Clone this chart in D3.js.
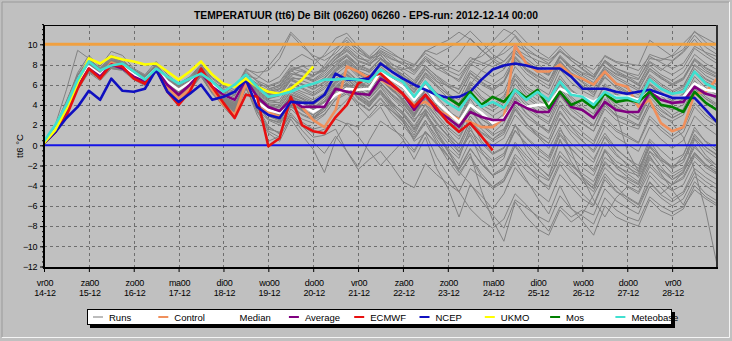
<!DOCTYPE html>
<html><head><meta charset="utf-8">
<script src="https://cdn.jsdelivr.net/npm/d3@7"></script>
<style>body{margin:0;background:#c0c0c0;overflow:hidden}svg{display:block}</style>
</head><body><svg id="c" width="732" height="341"></svg>
<script>
// ---------- DATA ----------
const titleText = "TEMPERATUUR (tt6) De Bilt (06260) 06260 - EPS-run: 2012-12-14 00:00";
const yLabel = "tt6 °C";
const stepHours = 6;
const dayNames = ["vr00","za00","zo00","ma00","di00","wo00","do00","vr00","za00","zo00","ma00","di00","wo00","do00","vr00"];
const dayDates = ["14-12","15-12","16-12","17-12","18-12","19-12","20-12","21-12","22-12","23-12","24-12","25-12","26-12","27-12","28-12"];
const yTicks = [-12,-10,-8,-6,-4,-2,0,2,4,6,8,10];
const refHigh = 10, refZero = 0;
const legendNames = ["Runs","Control","Median","Average","ECMWF","NCEP","UKMO","Mos","Meteobase"];
const legendColors = ["#7a7a7a","#f0905c","#ffffff","#800080","#e81010","#1010c0","#ffff00","#008000","#40e0d0"];

const control = [
0.2,1.4,3.3,5.8,7.6,6.8,8.2,7.8,6.8,6.2,
7.6,5.8,4.6,5.6,7.5,5.5,4.0,3.0,6.1,3.8,
3.3,2.8,4.3,3.8,2.5,1.8,3.5,7.8,7.3,6.6,
6.5,5.8,5.0,4.0,4.3,3.5,3.0,2.6,2.3,1.8,
1.8,2.7,9.9,8.1,7.3,7.3,8.0,7.0,6.6,6.0,
7.3,6.1,5.8,3.8,4.5,2.2,1.4,1.8,5.1,5.3,
6.6];
const median = [
0.2,1.5,3.5,6.0,7.8,7.0,8.0,7.8,7.0,6.5,
7.6,6.3,5.5,6.2,7.2,6.0,5.0,4.5,6.6,4.3,
3.5,3.2,4.3,4.0,3.3,4.0,5.0,5.6,5.5,5.6,
7.3,6.5,5.8,4.5,5.8,4.3,3.3,2.3,4.0,3.2,
2.2,2.7,4.3,3.8,4.0,4.0,5.6,5.1,4.8,4.3,
5.0,4.8,4.8,4.5,5.3,5.0,4.7,4.8,6.1,5.5,
5.3];
const average = [
0.2,1.3,3.3,5.8,7.6,6.8,8.0,7.6,6.8,6.3,
7.5,6.0,5.0,6.0,7.2,5.8,5.0,4.5,6.5,4.8,
3.8,3.4,4.5,3.8,3.8,3.8,5.6,5.3,5.1,5.0,
6.6,6.0,5.1,3.5,5.0,3.5,2.7,1.85,3.3,2.8,
2.5,2.5,4.3,3.7,3.3,3.3,5.3,3.8,3.5,2.7,
4.3,3.5,3.3,3.3,5.3,4.5,4.2,4.3,5.8,5.1,
4.8];
const ecmwf = [
0.2,1.3,2.9,5.6,7.6,6.6,8.0,7.8,6.6,6.1,
7.6,5.3,4.0,5.3,7.6,5.8,4.2,2.7,5.0,4.8,
-0.1,0.7,4.8,2.0,1.4,1.2,2.8,4.0,6.1,6.8,
7.1,6.1,5.1,3.8,5.0,3.7,2.3,1.35,2.2,0.9,
-0.5];
const ncep = [
0.2,1.3,2.7,3.8,5.4,4.5,6.6,5.4,5.3,5.6,
7.5,5.3,4.3,5.1,6.0,4.5,4.8,5.3,6.5,3.8,
3.0,2.7,4.3,4.2,4.2,5.0,7.1,6.5,6.5,6.6,
8.1,7.3,6.6,6.0,5.5,5.0,4.7,4.8,5.3,6.5,
7.5,7.9,8.1,7.9,7.6,7.6,7.6,6.8,5.6,5.6,
5.6,5.3,5.1,5.3,5.5,5.1,4.7,4.7,4.7,3.5,
2.3];
const ukmo = [
0.2,1.5,3.6,6.2,8.6,8.1,8.8,8.5,8.3,8.0,
8.1,7.3,6.5,7.3,8.3,7.0,6.1,5.8,6.6,5.8,
5.3,5.1,5.6,6.5,7.8];
const mosFromStep = 36;
const mos = [
4.7,4.0,5.3,4.0,4.8,4.3,5.5,4.7,5.5,3.7,
5.3,4.0,4.5,3.7,5.1,4.3,4.5,4.3,5.3,4.0,
3.8,3.3,5.3,4.2,3.5];
const meteobase = [
0.4,2.0,4.0,6.5,8.3,7.4,7.9,8.1,7.3,6.5,
7.6,6.8,6.1,6.6,7.1,6.3,5.3,6.0,7.0,5.8,
4.8,5.0,5.3,5.8,6.1,6.5,6.5,6.6,6.5,6.3,
7.5,6.8,6.3,4.8,6.3,5.0,4.2,3.5,5.0,3.8,
4.3,3.7,5.5,4.5,5.3,4.5,6.3,5.0,4.8,4.0,
5.3,4.7,4.7,4.3,6.5,5.6,5.1,5.3,7.3,6.1,
5.6];

const runs = [
[0.3,2.0,5.5,9.4,8.6,7.6,8.9,8.5,7.4,6.9, 8.0,6.8,6.0,6.6,7.8,6.4,5.6,5.2,7.4,6.3, 5.6,5.9,7.4,6.8,6.5,7.3,8.6,9.4,8.3,7.9, 9.0,7.6,6.8,5.9,7.5,6.4,5.2,4.0,6.2,4.8, 4.0,4.9,7.1,5.8,5.1,4.6,6.9,5.5,4.7,4.0, 5.9,5.0,4.6,4.2,6.1,5.3,4.4,5.1,7.3,6.5, 6.0],
[0.2,1.7,4.2,7.2,8.9,7.8,9.3,8.9,7.6,7.0, 8.3,7.0,6.1,6.8,8.0,6.7,5.9,5.5,7.6,6.9, 6.2,6.8,8.3,9.0,8.4,8.8,9.6,10.4,9.2,8.6, 9.4,8.8,8.0,7.2,8.6,7.5,7.8,9.0,10.6,9.5, 8.4,7.6,9.1,8.2,7.5,7.0,8.8,7.6,6.9,6.2, 7.8,7.0,6.6,6.0,8.2,7.4,8.3,9.2,10.5,9.1, 8.4],
[0.2,1.4,3.2,5.7,7.5,6.8,7.7,7.6,6.8,6.3, 7.4,5.9,4.9,5.7,7.0,5.5,4.4,3.8,6.2,4.5, 3.6,3.2,4.8,4.4,4.0,4.9,6.3,7.0,6.1,5.9, 7.2,6.1,5.2,3.9,5.5,4.0,2.9,1.8,3.8,2.6, 1.9,2.6,4.8,3.6,2.8,2.1,4.4,3.0,2.2,1.4, 3.6,2.5,2.0,1.6,3.9,2.9,2.4,3.0,5.2,4.1, 3.5],
[0.1,1.2,3.0,5.5,7.2,6.4,7.6,7.4,6.5,5.9, 7.3,5.6,4.4,5.4,7.3,5.3,3.8,2.6,5.2,4.1, 0.4,0.9,4.2,2.3,1.6,1.9,3.4,4.5,5.8,6.4, 6.6,5.5,4.6,3.2,4.7,3.1,1.8,0.9,2.6,0.4, -0.8,-0.2,1.9,0.7,-0.4,-1.3,1.2,-0.3,-1.5,-2.6, -0.6,-1.9,-2.8,-3.6,-1.2,-2.5,-3.4,-2.6,-0.8,-1.9, -2.8],
[0.2,1.6,3.6,6.2,7.9,7.1,8.2,7.9,7.2,6.6, 7.7,6.0,5.0,5.8,7.1,5.7,4.5,3.9,6.3,4.9, 3.9,3.5,5.0,4.6,3.8,4.3,5.6,6.1,5.4,4.6, 5.8,4.3,3.2,1.6,3.0,1.2,-0.6,-2.4,-0.8,-4.5, -7.4,-9.5,-5.6,-7.1,-8.3,-8.9,-6.4,-7.6,-6.8,-4.9, -2.8,-4.1,-5.2,-5.9,-3.6,-4.8,-3.9,-2.6,-0.7,-1.9, -2.5],
[0.3,1.8,4.0,6.6,8.3,7.4,8.4,8.1,7.3,6.7, 7.8,6.4,5.6,6.2,7.4,6.0,5.1,4.6,6.9,5.6, 5.0,5.2,6.6,6.1,5.5,6.2,7.5,8.2,7.1,6.5, 7.6,6.4,5.6,4.4,6.0,4.8,3.6,2.3,4.6,3.0, 2.2,3.1,5.4,4.2,3.4,2.8,5.0,3.7,2.9,2.0, 4.1,3.0,2.6,2.0,4.2,3.1,2.2,0.8,-2.5,-6.5, -11.8],
[0.2,1.3,3.3,5.9,7.6,6.9,7.9,7.7,6.9,6.3, 7.4,6.0,5.1,5.8,6.9,5.4,4.3,3.6,5.9,3.8, 1.9,1.1,3.6,2.6,2.2,3.0,4.6,5.3,3.9,2.7, 3.8,1.9,0.6,-1.4,0.8,-2.3,-4.2,-7.1,-3.9,-5.0, -6.3,-4.8,-2.2,-3.6,-4.7,-5.6,-2.9,-4.1,-5.3,-6.0, -3.4,-4.6,-5.1,-5.8,-3.0,-4.2,-5.3,-4.6,-2.3,-3.2, -3.9],
[0.2,1.5,3.4,6.1,7.7,7.0,8.1,7.8,7.1,6.6, 7.6,6.3,5.4,6.1,7.3,5.9,4.9,4.3,6.6,5.3, 4.5,4.2,5.8,5.3,4.9,5.6,7.0,7.9,6.8,6.0, 7.1,5.6,4.3,2.6,3.4,1.2,-0.4,-2.6,-3.8,-5.5, -6.9,-8.2,-5.4,-6.2,-7.0,-7.6,-5.0,-6.3,-7.0,-7.8, -5.2,-6.4,-7.1,-7.5,-5.1,-6.0,-6.6,-6.1,-4.4,-5.3, -6.0],
[0.3,1.9,4.4,7.0,8.4,7.5,8.5,8.2,7.4,6.8, 7.9,6.6,5.7,6.4,7.6,6.2,5.3,4.9,7.0,6.0, 5.4,5.8,7.3,7.9,7.2,7.4,8.5,9.9,9.0,8.1, 8.7,7.4,6.4,5.3,7.1,6.0,5.0,4.1,6.3,5.4, 4.6,5.3,7.8,6.5,5.7,5.0,7.5,6.2,5.4,4.8, 7.1,6.0,5.3,4.6,6.8,5.9,5.2,5.8,8.0,7.2, 6.7],
[0.1,1.3,3.1,5.6,7.3,6.6,7.6,7.5,6.6,6.1, 7.2,5.7,4.6,5.5,6.8,5.1,3.9,3.0,5.6,3.6, 2.5,2.0,3.9,3.0,2.5,3.1,4.5,5.1,4.2,3.4, 4.6,3.1,2.0,0.6,2.4,0.9,-0.5,-1.9,0.5,-0.8, -1.7,-1.0,1.4,0.2,-0.9,-1.6,1.0,-0.4,-1.5,-2.4, 0.3,-1.0,-1.8,-2.6,0.0,-1.2,-2.1,-1.4,1.1,-0.2, -1.0],
[0.2,1.6,3.8,6.4,8.1,7.2,8.3,8.0,7.2,6.7, 7.7,6.3,5.5,6.2,7.5,6.1,5.2,4.7,6.8,5.4, 4.6,4.9,6.5,6.0,5.8,6.6,7.8,8.5,7.6,7.3, 8.6,8.0,7.6,7.0,8.4,7.6,7.0,6.5,8.4,8.8, 9.7,10.4,11.4,10.2,9.3,8.6,9.8,8.7,7.9,7.0, 8.3,7.4,6.8,6.1,7.9,7.0,6.4,7.2,9.0,8.1, 7.5],
[0.3,1.8,4.1,6.9,8.5,7.6,8.7,8.3,7.4,6.8, 8.0,6.7,5.9,6.7,7.9,6.6,5.8,5.3,7.5,7.2, 7.4,8.6,11.0,9.8,8.9,8.4,9.1,10.2,9.6,8.7, 9.2,8.1,7.3,6.4,7.9,6.8,5.9,5.1,7.2,6.3, 5.6,6.4,8.7,7.4,6.6,5.9,8.2,7.1,6.3,5.6, 7.5,6.6,6.0,5.4,7.6,6.8,6.1,6.7,8.6,7.7, 7.1],
[0.2,1.4,3.4,5.9,7.6,6.9,7.8,7.6,6.8,6.2, 7.3,5.8,4.8,5.6,6.9,5.3,4.1,3.2,5.8,3.0, 1.2,0.4,2.6,1.0,-0.4,-2.7,0.6,2.2,1.8,2.9, 4.2,3.4,2.6,1.3,3.1,1.7,0.6,-0.7,1.5,0.2, -0.9,-0.3,2.0,0.8,-0.2,-1.1,1.5,0.2,-0.8,-1.7, 0.9,-0.4,-1.3,-2.0,0.6,-0.5,-1.5,-0.9,1.5,0.4, -0.3],
[0.2,1.5,3.5,6.0,7.8,7.0,8.0,7.8,7.0,6.5, 7.6,6.1,5.2,5.9,7.1,5.7,4.6,4.0,6.4,4.6, 3.7,3.3,4.9,4.3,3.7,4.6,6.1,6.9,5.8,5.2, 6.5,5.4,4.6,3.1,5.0,3.6,2.4,1.2,3.6,2.1, 1.2,2.2,4.6,3.1,2.2,1.4,3.9,2.4,1.3,0.4, 2.8,1.6,1.0,0.3,2.9,1.8,0.9,1.7,4.2,3.0, 2.2],
[0.2,1.7,3.9,6.5,8.2,7.3,8.4,8.1,7.3,6.7, 7.8,6.5,5.6,6.3,7.5,6.2,5.1,4.6,6.9,5.7, 5.1,5.5,6.9,7.4,6.9,7.6,8.8,9.7,8.7,8.2, 9.3,8.6,8.0,7.4,8.6,7.9,7.4,6.9,8.3,8.0, 8.6,9.1,10.0,9.3,8.8,8.4,9.3,8.4,7.6,6.8, 8.4,7.6,7.1,6.6,8.3,7.6,7.0,7.7,9.6,8.8, 8.1],
[0.1,1.3,3.2,5.7,7.4,6.7,7.7,7.6,6.7,6.1, 7.3,5.7,4.7,5.6,6.9,5.3,4.2,3.4,5.7,3.3, 1.6,1.3,3.0,1.5,0.3,-0.8,0.9,-0.6,-2.1,0.5, 2.4,1.6,0.9,-0.5,1.4,0.2,-1.0,-2.4,-0.4,-1.8, -2.9,-2.2,0.3,-1.0,-2.1,-3.0,-0.6,-1.9,-3.1,-4.0, -1.6,-2.8,-3.5,-4.2,-1.8,-3.0,-3.9,-3.3,-1.1,-2.2, -2.9],
[0.2,1.6,3.7,6.3,8.0,7.1,8.1,7.9,7.1,6.6, 7.7,6.2,5.3,6.0,7.2,5.9,4.9,4.4,6.6,5.1, 4.3,4.2,6.0,5.6,5.0,5.8,7.3,8.1,7.0,6.4, 7.6,6.7,5.9,4.8,6.4,5.2,4.3,3.4,5.7,4.6, 3.8,4.7,6.9,5.6,4.9,4.3,6.6,5.4,4.6,3.9, 6.1,5.1,4.5,3.9,6.0,5.1,4.4,5.0,7.2,6.3, 5.7],
[0.2,1.4,3.3,5.8,7.6,6.9,7.9,7.7,6.9,6.4, 7.5,6.0,5.0,5.7,7.0,5.5,4.4,3.7,6.1,4.3, 3.2,2.8,4.5,3.9,3.4,4.2,5.7,6.6,5.6,4.9, 6.2,4.9,3.9,2.4,4.0,2.3,0.9,-0.6,1.0,-1.5, -3.0,-2.4,-0.1,-1.8,-3.2,-4.4,-1.9,-3.5,-4.8,-5.9, -3.1,-4.5,-5.4,-6.2,-3.7,-4.9,-5.6,-4.8,-2.7,-3.6, -4.3],
[0.3,1.9,4.3,6.9,8.4,7.5,8.6,8.2,7.4,6.8, 7.9,6.6,5.8,6.5,7.7,6.4,5.5,5.0,7.2,6.4, 5.9,6.3,7.8,7.5,6.9,7.4,8.5,9.3,8.4,8.0, 9.1,8.5,8.2,7.9,9.4,9.0,9.6,10.3,11.3,10.2, 9.0,8.3,9.4,8.6,7.7,7.1,8.7,7.5,6.7,6.0, 7.6,6.8,6.2,5.6,7.4,6.6,6.0,6.6,8.5,7.6, 7.0],
[0.2,1.5,3.4,6.0,7.7,6.9,7.9,7.7,6.9,6.4, 7.5,6.0,5.1,5.8,7.0,5.6,4.5,3.8,6.2,4.2, 3.0,2.5,4.2,3.4,2.7,3.4,4.9,5.9,4.8,4.0, 5.4,4.2,3.3,1.9,3.6,2.1,0.9,-0.3,2.0,0.8, 0.0,0.7,3.0,1.8,0.9,0.2,2.7,1.4,0.4,-0.5, 1.9,0.8,0.1,-0.6,1.8,0.6,-0.3,0.5,2.9,1.8, 1.0],
[0.2,1.6,3.6,6.1,7.8,7.0,8.0,7.8,7.0,6.5, 7.6,6.2,5.3,6.0,7.2,5.8,4.7,4.1,6.5,5.0, 4.1,4.0,5.6,5.1,4.5,5.2,6.6,7.4,6.4,5.7, 6.9,5.9,5.0,3.9,5.5,4.4,3.3,2.6,4.8,3.7, 2.9,3.6,6.1,4.7,3.9,3.2,5.7,4.3,3.5,2.7, 5.1,3.2,-0.5,-2.6,0.4,-1.2,-2.3,-1.0,1.8,0.3, -0.6],
[0.2,1.7,3.8,6.3,8.0,7.2,8.2,8.0,7.2,6.7, 7.7,6.4,5.5,6.1,7.4,6.0,5.0,4.5,6.7,5.8, 5.3,5.6,7.1,6.8,6.3,6.9,8.0,8.9,7.9,7.4, 8.5,7.7,7.0,6.2,7.8,6.9,6.1,5.5,7.4,6.6, 6.0,6.8,8.8,7.6,6.9,6.3,8.3,7.2,6.5,5.9, 7.8,7.1,6.8,6.5,8.6,8.4,8.9,10.1,11.2,10.6, 10.0],
[0.1,1.2,3.1,5.6,7.3,6.6,7.6,7.5,6.7,6.2, 7.3,5.8,4.8,5.5,6.8,5.2,4.0,3.3,5.7,3.9, 2.6,2.2,3.8,3.1,2.6,3.4,4.9,5.5,4.3,3.5, 4.7,3.4,2.3,0.8,2.5,0.6,-1.0,-2.7,-1.2,-3.1, -4.3,-3.6,-1.2,-2.5,-3.4,-4.1,-1.6,-2.6,-3.4,-4.3, -1.8,-2.8,-3.3,-3.9,-1.4,-2.4,-3.1,-2.4,-0.2,-1.3, -2.0],
[0.2,1.5,3.5,6.0,7.8,7.0,8.0,7.8,7.0,6.5, 7.6,6.2,5.2,5.9,7.2,5.8,4.7,4.1,6.4,4.8, 3.9,3.7,5.3,4.7,4.2,4.9,6.3,7.1,6.1,5.5, 6.8,5.9,5.1,4.1,5.8,4.9,4.2,3.7,6.0,7.4, 8.3,9.5,10.8,9.2,8.1,7.2,8.4,7.1,6.2,5.3, 6.8,5.7,4.9,4.1,6.0,4.9,4.0,4.6,6.8,5.7, 5.0],
[0.2,1.4,3.3,5.8,7.5,6.8,7.8,7.6,6.8,6.2, 7.4,5.8,4.8,5.6,6.9,5.3,4.1,3.3,5.8,3.5, 1.4,0.8,2.8,1.9,1.2,1.6,2.6,2.1,0.9,-0.6, -2.0,-0.8,0.4,-0.7,1.3,0.1,-1.1,-2.3,-0.3,-1.9, -3.0,-2.4,0.0,-1.3,-2.5,-3.4,-1.0,-2.3,-3.6,-4.6, -2.2,-3.3,-4.0,-4.6,-2.1,-3.2,-3.9,-3.1,-0.9,-2.0, -2.7],
[0.3,1.8,4.0,6.6,8.2,7.4,8.4,8.1,7.3,6.7, 7.8,6.5,5.6,6.3,7.5,6.2,5.2,4.7,6.9,6.1, 5.8,6.2,7.6,7.3,6.8,7.7,8.9,9.5,8.6,8.4, 9.6,9.0,8.5,8.0,9.1,8.4,7.8,7.3,8.7,8.2, 7.8,8.3,9.6,8.9,8.4,8.0,9.3,8.6,8.0,7.5, 8.8,8.2,7.8,7.4,8.8,8.2,7.6,8.1,9.8,9.2, 8.8],
[0.2,1.5,3.6,6.1,7.9,7.1,8.1,7.9,7.1,6.6, 7.7,6.3,5.4,6.1,7.3,5.9,4.8,4.2,6.6,5.0, 4.0,3.8,5.4,4.9,4.3,5.0,6.4,7.3,6.3,5.6, 6.7,5.5,4.5,3.0,4.4,2.8,1.3,0.0,2.4,1.3, 0.6,1.5,4.0,2.8,2.0,1.4,4.0,2.9,2.1,1.4, 3.9,2.9,2.4,1.9,4.3,3.4,2.7,3.3,5.6,4.6, 4.0],
[0.2,1.4,3.4,5.9,7.6,6.9,7.9,7.7,6.9,6.3, 7.4,5.9,4.9,5.7,7.0,5.4,4.3,3.6,6.0,4.0, 2.9,2.4,4.1,3.5,2.8,3.6,5.0,5.8,4.7,3.9, 5.1,3.6,2.4,0.6,2.2,0.3,-1.5,-3.0,-1.1,-2.8, -4.1,-3.5,-1.6,-3.4,-5.2,-6.8,-4.0,-6.2,-7.5,-8.9, -6.0,-7.1,-7.6,-8.0,-5.4,-6.5,-7.0,-6.3,-4.0,-5.1, -5.8],
[0.2,1.6,3.7,6.3,8.0,7.2,8.2,7.9,7.1,6.6, 7.7,6.3,5.4,6.1,7.3,6.0,4.9,4.4,6.8,5.5, 4.9,5.1,6.6,6.6,6.8,7.9,9.4,10.7,9.5,8.6, 8.9,7.8,6.8,5.6,7.0,5.8,4.7,3.8,5.8,4.6, 3.7,4.4,6.6,5.3,4.5,3.8,6.1,4.8,3.9,3.1, 5.3,4.2,3.5,2.8,5.0,3.9,3.0,3.6,5.9,4.8, 4.1],
[0.2,1.5,3.5,6.0,7.7,6.9,7.9,7.7,6.9,6.4, 7.5,6.1,5.1,5.8,7.1,5.6,4.5,3.9,6.3,4.4, 3.4,3.0,4.7,4.1,3.5,4.3,5.8,6.6,5.5,4.8, 6.1,5.0,4.1,2.8,4.6,3.4,2.3,1.3,3.7,2.6, 1.8,2.5,4.7,3.2,2.1,1.2,3.4,1.8,0.5,-0.7, 1.2,-0.3,-1.3,-2.3,-0.1,-1.6,-2.8,-2.2,0.0,-1.4, -2.3],
[0.2,1.7,3.9,6.5,8.1,7.3,8.3,8.0,7.2,6.7, 7.8,6.4,5.5,6.2,7.4,6.1,5.0,4.5,6.8,5.7, 5.1,5.3,6.8,6.4,6.0,6.7,7.9,8.8,7.8,7.2, 8.3,7.3,6.5,5.5,7.2,6.3,5.9,5.6,7.9,9.2, 10.3,11.5,10.9,9.6,8.8,8.1,9.5,8.4,7.5,6.7, 8.2,7.3,6.6,5.9,7.6,6.7,5.9,6.5,8.4,7.4, 6.8],
[0.2,1.4,3.4,5.9,7.6,6.9,7.9,7.7,6.9,6.3, 7.5,6.0,5.0,5.7,7.0,5.5,4.3,3.6,6.1,4.2, 3.1,2.6,4.3,3.6,3.0,3.8,5.3,6.2,5.1,4.3, 5.5,3.9,2.6,0.4,1.2,-1.2,-2.9,-4.6,-6.3,-7.4, -8.2,-7.3,-4.8,-5.9,-7.2,-8.5,-6.1,-7.1,-6.4,-6.9, -4.3,-5.5,-6.2,-6.8,-4.1,-5.2,-6.0,-5.3,-3.1,-4.0, -4.8],
[0.2,1.6,3.7,6.2,7.9,7.1,8.1,7.9,7.1,6.6, 7.7,6.3,5.4,6.1,7.3,6.0,5.0,4.6,6.9,6.6, 7.8,9.2,11.2,10.1,8.7,7.6,8.2,8.8,7.4,6.3, 7.0,5.6,4.4,3.0,4.8,3.5,2.4,1.6,4.0,2.9, 2.0,2.8,5.2,3.9,3.0,2.3,4.9,3.5,2.6,1.9, 4.6,3.7,3.2,2.6,5.0,4.1,3.5,4.0,6.4,5.2, 4.6],
[0.2,1.5,3.5,6.1,7.8,7.0,8.0,7.8,7.0,6.5, 7.6,6.2,5.3,6.0,7.2,5.8,4.8,4.3,6.6,5.6, 5.5,6.0,7.5,7.8,7.9,9.0,10.6,11.1,9.8,8.8, 9.9,9.2,8.4,7.4,8.8,8.0,7.1,6.3,8.1,7.4, 6.8,7.5,9.4,8.3,7.5,6.9,8.9,7.8,7.1,6.5, 8.4,7.6,7.2,6.9,9.0,8.6,8.4,9.3,10.9,9.7, 9.0],
[0.2,1.4,3.4,5.9,7.7,6.9,7.9,7.7,6.9,6.4, 7.5,6.0,5.0,5.8,7.0,5.5,4.4,3.7,6.1,4.0, 2.6,2.3,4.4,3.5,2.6,3.8,5.4,6.0,4.6,3.8, 5.3,3.8,2.7,1.0,3.3,1.4,-0.3,-1.3,1.8,-0.6, -2.2,-1.3,2.1,-0.5,-2.0,-3.1,0.6,-1.6,-3.2,-4.3, -0.5,-2.2,-3.1,-3.8,-0.6,-2.1,-3.4,-2.8,0.6,-1.0, -2.0],
[0.2,1.6,3.6,6.2,7.9,7.1,8.1,7.9,7.1,6.6, 7.7,6.2,5.3,6.0,7.2,5.9,4.9,4.3,6.6,5.2, 4.4,4.5,6.1,5.7,5.2,6.0,7.4,8.3,7.2,6.6, 7.8,6.9,6.2,5.2,6.8,5.9,5.1,4.5,6.8,6.0, 5.4,6.3,8.6,7.5,6.8,6.3,8.7,7.8,7.2,6.8, 8.9,8.3,8.1,7.9,10.4,9.6,8.8,9.5,11.3,10.2, 9.4],
[0.2,1.4,3.3,5.8,7.5,6.8,7.8,7.6,6.8,6.3, 7.4,5.9,4.9,5.6,6.9,5.4,4.3,3.5,5.9,4.4, 3.3,2.9,4.6,4.0,3.4,4.1,5.6,6.4,5.3,4.6, 5.9,4.7,3.7,2.3,4.1,2.8,1.6,0.6,2.9,1.6, 0.6,1.3,3.6,2.1,1.1,0.2,2.6,1.0,-0.2,-1.4, 0.8,-0.8,-2.0,-3.2,-1.0,-2.8,-4.4,-5.9,-3.6,-4.8, -5.5],
[0.2,1.5,3.5,6.1,7.8,7.0,8.0,7.8,7.0,6.5, 7.6,6.2,5.3,5.9,7.2,5.8,4.7,4.1,6.5,4.7, 3.6,3.4,5.1,4.6,4.0,4.8,6.2,7.0,6.0,5.3, 6.6,5.6,4.8,3.6,5.4,4.3,3.4,2.7,5.0,4.0, 3.4,4.2,6.5,5.0,4.1,3.5,6.0,4.6,3.6,2.8, 5.1,3.9,3.2,2.5,4.8,3.6,2.7,3.3,5.8,4.6, 3.8],
[0.2,1.4,3.4,5.9,7.6,6.8,7.8,7.6,6.8,6.3, 7.4,5.9,4.9,5.6,6.9,5.4,4.2,3.4,5.8,3.4, 1.8,1.2,3.2,1.9,0.8,1.0,1.6,-0.6,-2.4,-1.4, -0.6,-2.0,-3.6,-4.2,-1.8,-2.9,-3.8,-4.6,-2.3,-3.2, -4.1,-3.3,-0.9,-2.0,-2.9,-3.5,-1.1,-2.0,-2.8,-3.6, -1.2,-2.1,-2.6,-3.0,-0.6,-1.5,-2.1,-1.4,0.9,-0.2, -0.9],
[0.2,1.6,3.7,6.3,8.0,7.2,8.2,7.9,7.1,6.6, 7.7,6.3,5.4,6.1,7.3,6.0,5.0,4.4,6.7,5.4, 4.7,4.9,6.4,6.0,5.6,6.3,7.6,8.4,7.4,6.9, 8.1,7.6,7.5,7.8,9.3,9.9,10.4,11.2,10.5,9.4, 8.6,7.9,9.2,8.1,7.2,6.4,8.0,6.8,5.9,5.0, 6.7,5.8,5.2,4.6,6.6,5.7,5.0,5.6,7.6,6.6, 6.0],
[0.1,1.3,3.2,5.7,7.4,6.7,7.7,7.6,6.8,6.2, 7.3,5.8,4.8,5.6,6.9,5.3,4.2,3.5,5.9,4.0, 2.9,2.6,4.3,3.6,3.0,3.7,5.1,5.8,4.8,4.1, 5.2,4.0,3.1,1.7,3.5,2.2,1.0,0.1,2.4,1.2, 0.4,1.1,3.5,2.1,1.3,0.6,3.2,1.9,0.9,0.1, 2.5,1.4,0.8,0.2,2.6,1.5,0.6,1.3,3.8,2.6, 1.9],
[0.2,1.5,3.5,6.0,7.7,6.9,7.9,7.7,6.9,6.4, 7.5,6.1,5.1,5.8,7.1,5.6,4.5,3.9,6.3,4.5, 3.5,3.1,4.8,4.2,3.6,4.4,5.9,6.7,5.6,4.9, 6.2,5.1,4.2,2.9,4.7,3.4,2.2,1.2,3.5,2.0, 1.0,1.6,3.8,2.2,0.9,-0.3,1.8,-0.6,-3.2,-5.4, -7.1,-5.2,-4.1,-4.8,-2.6,-3.7,-4.5,-3.9,-1.6,-2.7, -3.4],
[0.3,1.9,4.3,7.0,8.6,7.6,8.7,8.3,7.5,6.9, 8.0,6.7,5.8,6.5,7.7,6.4,5.4,4.9,7.1,5.9, 5.3,5.6,7.1,6.9,6.4,7.1,8.3,9.0,8.0,7.5, 8.6,7.7,7.0,6.0,7.6,6.6,5.8,5.1,7.1,6.2, 5.5,6.2,8.4,7.1,6.3,5.6,7.9,6.7,5.9,5.2, 7.2,6.2,5.6,5.0,7.0,6.1,5.4,5.9,7.9,6.9, 6.3],
[0.2,1.5,3.5,6.0,7.8,7.0,8.0,7.8,7.0,6.5, 7.6,6.1,5.2,5.9,7.1,5.7,4.6,4.0,6.4,4.4, 3.3,2.9,4.6,4.0,3.3,4.0,5.4,6.1,5.0,4.2, 5.4,4.1,3.0,1.5,3.2,1.6,0.2,-1.0,1.2,-0.4, -1.5,-0.8,1.5,0.0,-1.2,-2.2,0.4,-1.1,-2.2,-3.0, -0.4,-1.6,-2.2,-2.8,-0.2,-1.4,-2.3,-1.7,0.7,-0.5, -1.3]
];

// ---------- DRAW ----------
const W = 732, H = 341;
const svg = d3.select("#c");
const plotL = 44, plotR = 717, plotT = 25, plotB = 268;
const x = d3.scaleLinear().domain([0, 360]).range([plotL, plotR]);
const y = d3.scaleLinear().domain([-12, 12]).range([266.5, 24.1]);
const FONT = "'Liberation Sans', Arial, sans-serif";

svg.append("rect").attr("width", W).attr("height", H).attr("fill", "#c0c0c0");
svg.append("path").attr("d", `M2,337V2H729`).attr("fill","none").attr("stroke","#9a9a9a");
svg.append("path").attr("d", `M2,337.5H729.5V2`).attr("fill","none").attr("stroke","#f4f4f4");

svg.append("text").attr("x", 366).attr("y", 19).attr("text-anchor","middle")
  .attr("font-family", FONT).attr("font-weight","bold").attr("font-size", 10.5)
  .attr("textLength", 344).attr("lengthAdjust","spacingAndGlyphs")
  .attr("fill","#000").text(titleText);

svg.append("clipPath").attr("id","clip").append("rect")
  .attr("x", plotL).attr("y", plotT).attr("width", plotR-plotL).attr("height", plotB-plotT);

const grid = svg.append("g").attr("stroke","#6e6e6e").attr("stroke-width",1).attr("stroke-dasharray","3,3");
yTicks.filter(v => v !== refHigh && v !== refZero).forEach(v => {
  grid.append("line").attr("x1", plotL).attr("x2", plotR).attr("y1", Math.round(y(v))+0.5).attr("y2", Math.round(y(v))+0.5);
});
const dayHours = dayNames.map((d,i) => i*24);
dayHours.slice(1).forEach(h => {
  grid.append("line").attr("y1", plotT).attr("y2", plotB).attr("x1", Math.round(x(h))+0.5).attr("x2", Math.round(x(h))+0.5);
});

const plot = svg.append("g").attr("clip-path","url(#clip)");
const lineGen = (offset) => d3.line()
  .defined(d => d != null)
  .x((d,i) => x((i+offset)*stepHours))
  .y(d => y(d));

runs.forEach(r => {
  plot.append("path").attr("d", lineGen(0)(r)).attr("fill","none")
    .attr("stroke","#828282").attr("stroke-width",1).attr("stroke-linejoin","round");
});

plot.append("line").attr("x1",plotL).attr("x2",plotR).attr("y1",y(refHigh)).attr("y2",y(refHigh))
  .attr("stroke","#f0a040").attr("stroke-width",3);
plot.append("line").attr("x1",plotL).attr("x2",plotR).attr("y1",y(refZero)).attr("y2",y(refZero))
  .attr("stroke","#1414e6").attr("stroke-width",2);

const series = [
  {d: control, off: 0, c: legendColors[1]},
  {d: median, off: 0, c: legendColors[2]},
  {d: average, off: 0, c: legendColors[3]},
  {d: ecmwf, off: 0, c: legendColors[4]},
  {d: ncep, off: 0, c: legendColors[5]},
  {d: ukmo, off: 0, c: legendColors[6]},
  {d: mos, off: mosFromStep, c: legendColors[7]},
  {d: meteobase, off: 0, c: legendColors[8]}
];
series.forEach(s => {
  plot.append("path").attr("d", lineGen(s.off)(s.d)).attr("fill","none")
    .attr("stroke", s.c).attr("stroke-width", 2.6).attr("stroke-linejoin","round");
});

svg.append("line").attr("x1",plotL).attr("x2",plotR).attr("y1",plotT+0.5).attr("y2",plotT+0.5).attr("stroke","#000").attr("stroke-width",1);
svg.append("line").attr("x1",plotR).attr("x2",plotR).attr("y1",plotT).attr("y2",plotB).attr("stroke","#303030").attr("stroke-width",2);

const yAxisMinor = d3.axisLeft(y).tickValues(d3.range(-12, 12.01, 0.5)).tickSize(2).tickFormat("");
const gym = svg.append("g").attr("transform",`translate(${plotL},0)`).call(yAxisMinor);
gym.select(".domain").remove();
gym.selectAll("line").attr("stroke","#000");
const yAxis = d3.axisLeft(y).tickValues(yTicks).tickSize(4).tickPadding(3);
const gy = svg.append("g").attr("transform",`translate(${plotL},0)`).call(yAxis);
gy.select(".domain").remove();
gy.selectAll("line").attr("stroke","#000");
gy.selectAll("text").attr("font-family",FONT).attr("font-size",9).attr("letter-spacing","-0.4px").attr("fill","#000");
svg.append("line").attr("x1",plotL).attr("x2",plotL).attr("y1",plotT).attr("y2",plotB+1).attr("stroke","#000").attr("stroke-width",2);

const xAxis = d3.axisBottom(x).tickValues(dayHours).tickSize(4).tickFormat("");
const gx = svg.append("g").attr("transform",`translate(0,${plotB})`).call(xAxis);
gx.select(".domain").remove();
gx.selectAll("line").attr("stroke","#000");
svg.append("line").attr("x1",plotL-1).attr("x2",plotR+1).attr("y1",plotB).attr("y2",plotB).attr("stroke","#000").attr("stroke-width",2);
const xl = svg.append("g").attr("font-family",FONT).attr("font-size",9).attr("fill","#000").attr("text-anchor","middle").attr("letter-spacing","-0.3px");
dayHours.forEach((h,i) => {
  xl.append("text").attr("x", x(h)+1).attr("y", 285.5).text(dayNames[i]);
  xl.append("text").attr("x", x(h)+1).attr("y", 295.5).text(dayDates[i]);
});

svg.append("text").attr("transform","translate(23,146) rotate(-90)").attr("text-anchor","middle")
  .attr("font-family",FONT).attr("font-size",9.5).attr("fill","#000").text(yLabel);

const lg = svg.append("g");
lg.append("rect").attr("x",90).attr("y",312).attr("width",585).attr("height",16).attr("fill","#000");
lg.append("rect").attr("x",87.5).attr("y",309.5).attr("width",584).attr("height",15).attr("fill","#fff").attr("stroke","#000").attr("stroke-width",1);
legendNames.forEach((n,i) => {
  const x0 = 93 + 65.3*i;
  lg.append("line").attr("x1",x0).attr("x2",x0+10).attr("y1",317).attr("y2",317)
    .attr("stroke",legendColors[i]).attr("stroke-width", i===0?1:2);
  lg.append("text").attr("x",x0+16).attr("y",320.5).attr("font-family",FONT).attr("font-size",9.5)
    .attr("fill","#000").text(n);
});
</script></body></html>
